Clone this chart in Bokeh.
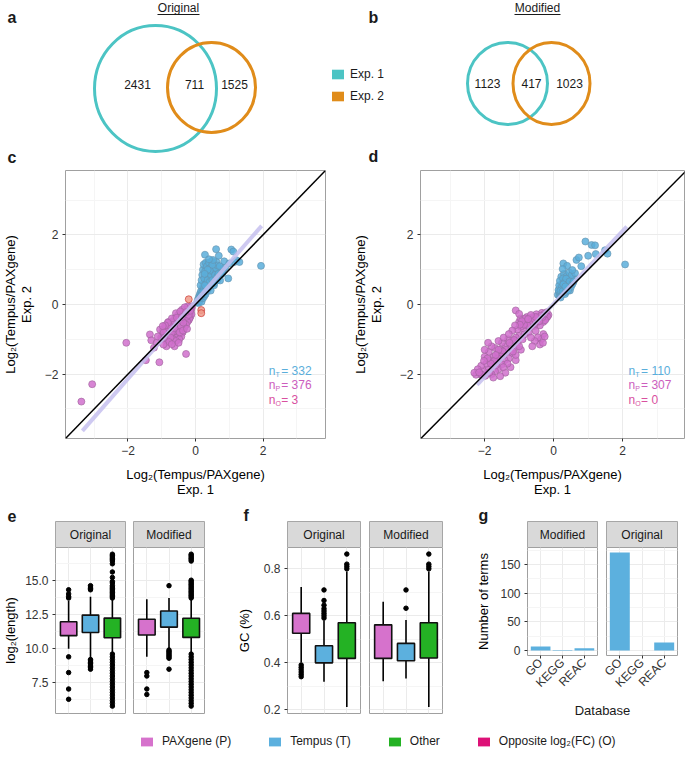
import math
from bokeh.plotting import figure
from bokeh.layouts import row, column
from bokeh.models import (Range1d, FactorRange, FixedTicker, CategoricalTicker, Label,
                          Legend, LegendItem, Slope, ColumnDataSource)
from bokeh.embed import file_html
from bokeh.resources import INLINE
from bokeh.core.properties import value

FONT = "Liberation Sans"
BLACK = "#1A1A1A"
TICK_TXT = "#333333"
GRID_MAJ = "#EBEBEB"
GRID_MIN = "#F5F5F5"
FRAME = "#A0A0A0"
STRIP_FILL = "#D9D9D9"
STRIP_LINE = "#A6A6A6"

COL_P, COL_T, COL_O, COL_OPP = "#D672CC", "#5CB0DE", "#24B224", "#DD1177"
COL_E1, COL_E2 = "#4CC4C4", "#E08C1A"

# ====================== DATA ======================
venn_sets = ["Exp. 1", "Exp. 2"]
venn_titles = ["Original", "Modified"]
venn_a_counts = [2431, 711, 1525]
venn_b_counts = [1123, 417, 1023]

group_labels = ["PAXgene (P)", "Tempus (T)", "Other", "Opposite log\u2082(FC) (O)"]

scatter_ticks = [-2, 0, 2]
scatter_minor = [-3, -1, 1, 3]
scatter_tick_labels = ["\u22122", "0", "2"]

c_P_pts = [(-0.10, -0.05), (-0.12, -0.12), (-0.14, -0.20), (-0.16, -0.08), (-0.18, -0.28), (-0.20, -0.15),
           (-0.22, -0.35), (-0.24, -0.06), (-0.25, -0.24), (-0.27, -0.42), (-0.29, -0.15), (-0.30, -0.32),
           (-0.32, -0.50), (-0.34, -0.22), (-0.35, -0.40), (-0.37, -0.58), (-0.39, -0.28), (-0.40, -0.47),
           (-0.42, -0.65), (-0.44, -0.35), (-0.45, -0.55), (-0.47, -0.72), (-0.49, -0.42), (-0.50, -0.62),
           (-0.52, -0.80), (-0.54, -0.48), (-0.55, -0.68), (-0.57, -0.86), (-0.59, -0.55), (-0.60, -0.75),
           (-0.62, -0.92), (-0.64, -0.60), (-0.65, -0.80), (-0.67, -0.48), (-0.69, -0.70), (-0.70, -0.90),
           (-0.72, -0.58), (-0.74, -0.78), (-0.76, -1.00), (-0.78, -0.65), (-0.80, -0.85), (-0.82, -0.72),
           (-0.84, -0.95), (-0.86, -0.60), (-0.88, -0.82), (-0.90, -1.02), (-0.92, -0.70), (-0.95, -0.90),
           (-0.98, -0.78), (-1.02, -0.95), (-0.30, -0.60), (-0.35, -0.72), (-0.20, -0.45), (-0.45, -0.85),
           (-0.55, -0.95), (-0.40, -0.15), (-0.60, -0.38), (-0.80, -0.50), (-1.05, -0.72), (-0.15, -0.35),
           (-0.12, -0.28), (-0.18, -0.40), (-0.24, -0.50), (-0.28, -0.58), (-0.33, -0.66), (-0.38, -0.80),
           (-0.42, -0.92), (-0.48, -1.00), (-0.52, -0.30), (-0.58, -0.25), (-0.62, -0.50), (-0.66, -0.66),
           (-0.70, -0.40), (-0.74, -0.65), (-0.78, -0.88), (-0.82, -0.52), (-0.86, -0.78), (-0.90, -0.60),
           (-0.94, -0.80), (-0.97, -0.62), (-1.00, -1.00), (-0.66, -1.00), (-0.58, -1.05), (-0.50, -0.50),
           (-0.44, -0.62), (-0.36, -0.52), (-0.26, -0.35), (-0.20, -0.30), (-0.32, -0.08), (-0.45, -0.20),
           (-0.55, -0.38), (-0.70, -0.80), (-0.84, -1.05), (-0.62, -0.68), (-0.40, -0.36), (-0.28, -0.22),
           (-0.16, -0.18), (-0.74, -0.95), (-0.92, -0.95), (-0.47, -0.80),
           (-2.05, -1.10), (-1.35, -0.86), (-1.31, -1.03), (-1.23, -1.24), (-1.47, -1.60), (-1.07, -1.66),
           (-0.86, -1.20), (-0.62, -1.20), (-0.28, -1.42), (-0.37, -0.75), (-0.25, -0.70), (-0.78, -1.08),
           (-3.06, -2.29), (-3.38, -2.79), (-1.15, -1.10), (-0.70, -1.14), (-1.12, -0.92), (-0.95, -1.15),
           (-0.50, -1.10)]
c_T_pts = [(0.05, 0.06), (0.07, 0.14), (0.09, 0.04), (0.10, 0.22), (0.12, 0.10), (0.13, 0.30), (0.15, 0.16),
           (0.16, 0.38), (0.18, 0.08), (0.19, 0.26), (0.20, 0.46), (0.22, 0.18), (0.23, 0.34), (0.24, 0.55),
           (0.26, 0.24), (0.27, 0.42), (0.28, 0.64), (0.29, 0.86), (0.30, 0.30), (0.31, 0.50), (0.32, 0.72),
           (0.33, 0.95), (0.34, 0.38), (0.35, 0.58), (0.36, 0.80), (0.37, 1.05), (0.38, 0.46), (0.39, 0.66),
           (0.40, 0.88), (0.41, 1.12), (0.42, 0.54), (0.44, 0.74), (0.45, 0.96), (0.46, 1.15), (0.47, 0.62),
           (0.49, 0.82), (0.50, 1.02), (0.52, 0.70), (0.54, 0.90), (0.55, 1.10), (0.57, 0.78), (0.59, 0.98),
           (0.61, 0.86), (0.63, 1.06), (0.66, 0.92), (0.70, 1.00), (0.74, 0.95), (0.78, 1.02), (0.83, 1.00),
           (0.88, 1.06), (0.30, 1.05), (0.33, 1.18), (0.45, 0.40), (0.55, 0.55), (0.65, 0.70),
           (0.15, 0.55), (0.18, 0.70), (0.20, 0.85), (0.22, 1.00), (0.24, 1.15), (0.26, 0.75), (0.28, 0.95),
           (0.30, 1.20), (0.32, 0.60), (0.34, 1.10), (0.36, 0.70), (0.38, 0.90), (0.40, 1.20), (0.42, 0.65),
           (0.44, 1.05), (0.46, 0.85), (0.48, 1.25), (0.50, 0.70), (0.52, 0.95), (0.54, 1.18), (0.56, 0.62),
           (0.58, 0.85), (0.60, 1.05), (0.62, 1.22), (0.64, 0.78), (0.66, 1.12), (0.68, 0.88), (0.72, 1.10),
           (0.76, 0.86), (0.80, 0.90), (0.25, 0.45), (0.35, 0.45), (0.20, 0.35), (0.12, 0.18), (0.16, 0.25),
           (0.28, 0.55), (0.42, 0.98), (0.50, 1.14), (0.36, 1.00), (0.27, 0.88),
           (0.28, 1.43), (0.61, 1.59), (0.69, 1.40), (1.06, 1.58), (1.12, 1.52), (1.15, 1.22), (1.22, 1.27),
           (1.30, 1.22), (1.94, 1.11), (0.97, 0.75), (0.73, 0.69), (0.52, 1.28), (0.85, 1.24), (1.00, 1.18),
           (0.40, 1.30)]
c_O_pts = [(-0.20, 0.15), (0.17, -0.16), (0.17, -0.25)]
c_fit_x = [-3.35, 1.96]
c_fit_y = [-3.63, 2.26]
c_counts = [332, 376, 3]

d_P_pts = [(-0.15, -0.30), (-0.20, -0.22), (-0.22, -0.40), (-0.27, -0.30), (-0.30, -0.50), (-0.34, -0.24),
           (-0.37, -0.42), (-0.40, -0.60), (-0.44, -0.34), (-0.47, -0.50), (-0.50, -0.28), (-0.54, -0.45),
           (-0.57, -0.62), (-0.60, -0.36), (-0.64, -0.52), (-0.68, -0.40), (-0.70, -0.66), (-0.74, -0.50),
           (-0.78, -0.36), (-0.80, -0.60), (-0.85, -0.46), (-0.88, -0.70), (-0.91, -0.55), (-0.95, -0.64),
           (-1.00, -0.50), (-1.05, -0.72), (-0.96, -0.40), (-0.72, -0.80), (-0.52, -0.76), (-1.10, -0.17),
           (-1.00, -0.27), (-0.30, -0.85), (-0.36, -1.00), (-0.26, -0.92), (-0.40, -1.15), (-0.46, -0.95),
           (-0.55, -1.05), (-0.62, -1.20), (-0.31, -1.10), (-0.66, -0.95), (-1.00, -0.90), (-1.05, -1.10),
           (-1.10, -0.95), (-1.15, -1.25), (-1.20, -1.05), (-1.20, -1.40), (-1.25, -1.20), (-1.30, -1.55),
           (-1.32, -1.00), (-1.35, -1.35), (-1.40, -1.20), (-1.42, -1.60), (-1.45, -1.45), (-1.50, -1.10),
           (-1.50, -1.72), (-1.55, -1.30), (-1.58, -1.55), (-1.60, -1.86), (-1.62, -1.40), (-1.65, -1.66),
           (-1.70, -1.25), (-1.70, -1.92), (-1.75, -1.50), (-1.78, -1.76), (-1.80, -2.00), (-1.85, -1.60),
           (-1.88, -1.36), (-1.90, -1.86), (-1.95, -1.70), (-1.98, -2.05), (-2.00, -1.50), (-2.05, -1.90),
           (-2.10, -1.76), (-2.12, -2.00), (-2.20, -1.86), (-2.25, -2.02), (-2.30, -1.96), (-1.10, -1.60),
           (-1.25, -1.80), (-1.40, -1.96), (-1.55, -2.06), (-1.75, -2.10), (-0.95, -1.30), (-1.10, -1.45),
           (-1.00, -1.20), (-0.90, -1.00), (-0.85, -0.86), (-1.60, -1.05), (-1.80, -1.20), (-2.00, -1.30),
           (-1.90, -1.10), (-1.45, -0.95),
           (-0.18, -0.35), (-0.25, -0.45), (-0.32, -0.36), (-0.42, -0.48), (-0.48, -0.40), (-0.56, -0.55),
           (-0.62, -0.45), (-0.70, -0.55), (-0.76, -0.60), (-0.82, -0.40), (-0.86, -0.58), (-0.92, -0.48),
           (-0.98, -0.58), (-0.26, -0.26), (-0.36, -0.32), (-0.52, -0.36), (-0.66, -0.30), (-0.74, -0.42),
           (-1.12, -0.60), (-1.20, -0.75), (-1.30, -0.85), (-1.15, -1.02), (-1.28, -1.10), (-1.38, -1.30),
           (-1.48, -1.35), (-1.52, -1.50), (-1.62, -1.55), (-1.68, -1.75), (-1.72, -1.62), (-1.82, -1.70),
           (-1.86, -1.95), (-1.92, -1.55), (-2.02, -1.62), (-2.08, -2.02), (-2.16, -1.95), (-1.34, -1.70),
           (-1.46, -1.80), (-1.60, -1.30), (-1.68, -1.45), (-1.18, -1.35)]
d_T_pts = [(0.12, 0.28), (0.15, 0.36), (0.17, 0.24), (0.18, 0.46), (0.20, 0.32), (0.22, 0.55), (0.23, 0.40),
           (0.25, 0.30), (0.26, 0.62), (0.28, 0.46), (0.29, 0.36), (0.31, 0.54), (0.32, 0.70), (0.34, 0.42),
           (0.35, 0.60), (0.37, 0.50), (0.39, 0.66), (0.40, 0.44), (0.42, 0.56), (0.44, 0.72), (0.46, 0.52),
           (0.48, 0.62), (0.50, 0.58), (0.53, 0.68), (0.56, 0.64), (0.60, 0.74), (0.22, 0.80), (0.30, 0.88),
           (0.38, 0.82), (0.45, 0.92), (0.52, 0.84), (0.62, 0.90), (0.20, 0.20), (0.33, 0.30), (0.47, 0.40),
           (0.14, 0.42), (0.16, 0.55), (0.18, 0.68), (0.24, 0.50), (0.27, 0.75), (0.30, 0.62), (0.33, 0.48),
           (0.36, 0.74), (0.40, 0.58), (0.43, 0.48), (0.46, 0.66), (0.50, 0.50), (0.54, 0.58), (0.58, 0.66),
           (0.20, 0.40), (0.26, 0.38), (0.35, 0.36), (0.42, 0.40), (0.28, 0.58), (0.34, 0.52),
           (0.28, 1.18), (0.39, 1.11), (0.54, 0.99), (0.66, 1.28), (0.73, 1.35), (0.92, 1.81), (1.10, 1.71),
           (1.20, 1.70), (1.00, 1.40), (1.22, 1.45), (1.49, 1.56), (1.56, 1.46), (2.07, 1.15), (0.80, 1.10),
           (0.26, 1.02)]
d_O_pts = []
d_fit_x = [-2.22, 2.12]
d_fit_y = [-2.31, 2.24]
d_counts = [110, 307, 0]

box_cats = ["P", "T", "O"]
box_colors = [COL_P, COL_T, COL_O]
facet_names = ["Original", "Modified"]

e_ticks = [7.5, 10.0, 12.5, 15.0]
e_minor = [6.25, 8.75, 11.25, 13.75, 16.25]
e_tick_labels = ["7.5", "10.0", "12.5", "15.0"]
e_orig_q1 = [10.95, 11.18, 10.80]
e_orig_med = [11.55, 11.90, 11.40]
e_orig_q3 = [11.96, 12.45, 12.23]
e_orig_lo = [10.00, 9.30, 9.70]
e_orig_hi = [13.50, 13.80, 13.60]
e_orig_out_P = [14.3, 14.0, 13.8, 13.7, 9.4, 8.25, 7.05, 6.3]
e_orig_out_T = [14.6, 14.5, 14.4, 14.3, 9.2, 9.1, 9.0, 8.9, 8.8, 8.7, 8.6, 8.5]
e_orig_out_O = [13.7, 13.8, 13.9, 14.0, 14.1, 14.2, 14.3, 14.4, 14.5, 14.6, 14.8, 14.9, 15.2, 15.6,
                16.2, 16.4, 16.5, 16.6, 16.7, 16.8, 16.9,
                9.6, 9.4, 9.2, 9.0, 8.8, 8.6, 8.4, 8.2, 8.0, 7.8, 7.6, 7.4, 7.2, 7.0, 6.8, 6.6, 6.4,
                6.2, 6.0, 5.8]
e_mod_q1 = [11.00, 11.57, 10.82]
e_mod_med = [11.55, 12.30, 11.40]
e_mod_q3 = [12.15, 12.75, 12.22]
e_mod_lo = [9.40, 10.00, 9.70]
e_mod_hi = [13.60, 13.70, 13.60]
e_mod_out_P = [8.25, 8.0, 7.05, 6.65]
e_mod_out_T = [14.6, 9.9, 9.8, 9.7, 9.6, 9.5, 9.4, 9.3, 8.5]
e_mod_out_O = [13.7, 13.8, 13.9, 14.0, 14.1, 14.2, 14.3, 14.4, 14.5, 14.6, 14.7, 14.8, 14.9, 15.0,
               16.4, 16.5, 16.6, 16.7, 16.8, 16.9,
               9.6, 9.4, 9.2, 9.0, 8.8, 8.6, 8.4, 8.2, 8.0, 7.8, 7.6, 7.4, 7.2, 7.0, 6.8, 6.6, 6.4,
               6.2, 6.0, 5.8]

f_ticks = [0.2, 0.4, 0.6, 0.8]
f_minor = [0.3, 0.5, 0.7]
f_tick_labels = ["0.2", "0.4", "0.6", "0.8"]
f_orig_q1 = [0.525, 0.399, 0.418]
f_orig_med = [0.570, 0.432, 0.492]
f_orig_q3 = [0.610, 0.472, 0.570]
f_orig_lo = [0.400, 0.318, 0.211]
f_orig_hi = [0.722, 0.580, 0.789]
f_orig_out_P = [0.39, 0.38, 0.37, 0.36, 0.35, 0.34]
f_orig_out_T = [0.71, 0.665, 0.645, 0.63, 0.62, 0.61, 0.60, 0.59]
f_orig_out_O = [0.80, 0.81, 0.82, 0.863]
f_mod_q1 = [0.418, 0.408, 0.420]
f_mod_med = [0.482, 0.442, 0.492]
f_mod_q3 = [0.561, 0.482, 0.570]
f_mod_lo = [0.321, 0.332, 0.211]
f_mod_hi = [0.660, 0.582, 0.789]
f_mod_out_P = []
f_mod_out_T = [0.632, 0.71]
f_mod_out_O = [0.80, 0.81, 0.82, 0.863]

g_cats = ["GO", "KEGG", "REAC"]
g_facets = ["Modified", "Original"]
g_mod = [7, 1, 4]
g_orig = [171, 0, 14]
g_ticks = [0, 50, 100, 150]
g_minor = [25, 75, 125, 175]
g_tick_labels = ["0", "50", "100", "150"]


# ====================== HELPERS ======================
def blank(x0, x1, y0, y1):
    p = figure(width=x1 - x0, height=y1 - y0, x_range=Range1d(x0, x1), y_range=Range1d(y1, y0),
               min_border=0, x_axis_location=None, y_axis_location=None,
               output_backend="svg", toolbar_location=None)
    p.grid.visible = False
    p.outline_line_color = None
    return p


def txt(p, x, y, t, size="12px", color=BLACK, align="center", style="normal", baseline="middle"):
    p.text(x=[x], y=[y], text=[t], text_font=value(FONT), text_font_size=size, text_color=color,
           text_align=align, text_baseline=baseline, text_font_style=style)


def style_axis(ax, ticks, minor, labels, label_size="13px", label_standoff=3):
    ax.ticker = FixedTicker(ticks=ticks, minor_ticks=minor)
    ax.major_label_overrides = {t: l for t, l in zip(ticks, labels)}
    ax.axis_line_color = None
    ax.major_tick_line_color = "#333333"
    ax.major_tick_in = 0
    ax.major_tick_out = 3
    ax.minor_tick_line_color = None
    ax.major_label_text_font = FONT
    ax.major_label_text_font_size = "12px"
    ax.major_label_text_color = TICK_TXT
    ax.major_label_standoff = 3
    ax.axis_label_text_font = FONT
    ax.axis_label_text_font_size = label_size
    ax.axis_label_text_font_style = "normal"
    ax.axis_label_text_color = "black"
    ax.axis_label_standoff = label_standoff
    ax.axis_label_text_line_height = 1.05


def style_legend(lg):
    lg.label_text_font = FONT
    lg.label_text_font_size = "12px"
    lg.label_text_color = BLACK
    lg.border_line_color = None
    lg.background_fill_alpha = 0
    lg.padding = 0
    lg.margin = 0


def legend_swatches(p, colors):
    # swatch renderers kept outside the visible range; they only feed the legend glyphs
    return [p.quad(left=[-2000], right=[-1990], top=[-2000], bottom=[-1990], fill_color=c, line_color=None)
            for c in colors]


# ====================== ROW 1 : VENN (+ letters c, d) ======================
ROW1_H = 168


def venn(p, counts, title, c1, c2, label_x, label_y, title_x, title_w):
    for (cx, cy, w, h), col in ((c1, COL_E1), (c2, COL_E2)):
        p.ellipse(x=[cx], y=[cy], width=[w], height=[h], fill_color=None, line_color=col, line_width=3)
    for x, n in zip(label_x, counts):
        txt(p, x, label_y, str(n))
    txt(p, title_x, 7, title)
    p.segment(x0=[title_x - title_w / 2], y0=[14], x1=[title_x + title_w / 2], y1=[14],
              line_color=BLACK, line_width=1)


pa = blank(0, 320, 0, ROW1_H)
venn(pa, venn_a_counts, venn_titles[0], (155, 88, 122, 126), (211, 87, 88, 90),
     [137, 194, 234], 84, 178, 42)
txt(pa, 7, 17, "a", size="16px", align="left", style="bold")
txt(pa, 7, 157, "c", size="16px", align="left", style="bold")

pb = blank(320, 685, 0, ROW1_H)
venn(pb, venn_b_counts, venn_titles[1], (507, 83, 80, 82), (551, 83, 77, 82),
     [487, 531, 569], 83, 537, 46)
txt(pb, 368, 17, "b", size="16px", align="left", style="bold")
txt(pb, 368, 156, "d", size="16px", align="left", style="bold")
ve = legend_swatches(pb, (COL_E1, COL_E2))
lg_v = Legend(items=[LegendItem(label=l, renderers=[r]) for l, r in zip(venn_sets, ve)],
              location=(10, 65), orientation="vertical", glyph_width=15, glyph_height=12,
              label_height=12, spacing=8, label_standoff=5)
style_legend(lg_v)
pb.add_layout(lg_v)


# ====================== ROW 2 : SCATTER ======================
def scatter_panel(x0, x1, fl, fr, xr, P, T, O, fx, fy, counts, ylab_standoff):
    yr = (-3.85, 3.85)
    top, ft, fb, bot = ROW1_H, 170, 438, 500
    p = figure(width=x1 - x0, height=bot - top, x_range=Range1d(*xr), y_range=Range1d(*yr),
               min_border_left=fl - x0, min_border_right=x1 - fr, min_border_top=ft - top,
               min_border_bottom=bot - fb, output_backend="svg", toolbar_location=None)
    p.outline_line_color = FRAME
    p.background_fill_color = "white"
    for ax in (p.xaxis[0], p.yaxis[0]):
        style_axis(ax, scatter_ticks, scatter_minor, scatter_tick_labels)
    p.xaxis.axis_label = "Log\u2082(Tempus/PAXgene)\nExp. 1"
    p.yaxis.axis_label = "Log\u2082(Tempus/PAXgene)\nExp. 2"
    p.xaxis.axis_label_standoff = 9
    p.yaxis.axis_label_standoff = ylab_standoff
    p.grid.grid_line_color = GRID_MAJ
    p.grid.minor_grid_line_color = GRID_MIN

    def sc(pts, fill, line):
        if pts:
            xs, ys = zip(*pts)
            p.scatter(list(xs), list(ys), size=7, fill_color=fill, fill_alpha=0.85,
                      line_color=line, line_alpha=0.8, line_width=0.8)
    sc(P, "#D070CC", "#A0649E")
    sc(T, "#5AAEDB", "#6494B0")
    sc(O, "#EE9A8A", "#C8302A")
    p.line(fx, fy, line_color="#C6C0EE", line_width=4, line_alpha=0.85)
    p.add_layout(Slope(gradient=1, y_intercept=0, line_color="black", line_width=1.5))

    cols = ["#5AAEDB", "#CC5DBE", "#D9509F"]
    subs = ["T", "P", "O"]
    for i, (n, s, c) in enumerate(zip(counts, subs, cols)):
        y = -1.90 - 0.415 * i
        x = 2.17
        kw = dict(text_font=FONT, text_color=c, text_baseline="middle", text_align="left")
        p.add_layout(Label(x=x, y=y, text="n", text_font_size="12px", **kw))
        p.add_layout(Label(x=x, y=y, x_offset=6.8, y_offset=-3.5, text=s, text_font_size="7px", **kw))
        p.add_layout(Label(x=x, y=y, x_offset=12.5, text="= %d" % n, text_font_size="12px", **kw))
    return p


pc = scatter_panel(0, 340, 57, 325, (-3.85, 3.85), c_P_pts, c_T_pts, c_O_pts, c_fit_x, c_fit_y,
                   c_counts, 8)
pd_ = scatter_panel(340, 685, 420, 684, (-3.86, -3.86 + 264 / 34.5), d_P_pts, d_T_pts, d_O_pts,
                    d_fit_x, d_fit_y, d_counts, 13)


# ====================== ROW 3 : FACETS ======================
S_TOP, F_TOP = 521, 547


def strip(x0, x1, fl, fr, name, letter=None, letter_x=None):
    p = blank(x0, x1, 500, F_TOP)
    p.quad(left=[fl], right=[fr], top=[S_TOP], bottom=[F_TOP], fill_color=STRIP_FILL, line_color=STRIP_LINE)
    txt(p, (fl + fr) / 2, (S_TOP + F_TOP) / 2, name, color=BLACK)
    if letter:
        txt(p, letter_x, 515, letter, size="16px", align="left", style="bold")
    return p


def facet_fig(x0, x1, fl, fr, height, bottom, cats, yr, yt, ym, ylabels, ylabel=None,
              xlabels=False, ylab_standoff=3):
    p = figure(width=x1 - x0, height=height,
               x_range=FactorRange(factors=cats, range_padding=0.2 / 3),
               y_range=Range1d(*yr),
               min_border_left=fl - x0, min_border_right=x1 - fr, min_border_top=0,
               min_border_bottom=bottom,
               x_axis_location="below" if xlabels else None,
               y_axis_location="left" if ylabel else None,
               output_backend="svg", toolbar_location=None)
    p.outline_line_color = FRAME
    p.xgrid.ticker = CategoricalTicker()
    p.xgrid.grid_line_color = GRID_MAJ
    p.ygrid.ticker = FixedTicker(ticks=yt, minor_ticks=ym)
    p.ygrid.grid_line_color = GRID_MAJ
    p.ygrid.minor_grid_line_color = GRID_MIN
    if ylabel:
        style_axis(p.yaxis[0], yt, ym, ylabels, label_standoff=ylab_standoff)
        p.yaxis.axis_label = ylabel
    if xlabels:
        ax = p.xaxis[0]
        ax.axis_line_color = None
        ax.major_tick_line_color = "#333333"
        ax.major_tick_in = 0
        ax.major_tick_out = 3
        ax.minor_tick_line_color = None
        ax.major_label_text_font = FONT
        ax.major_label_text_font_size = "12px"
        ax.major_label_text_color = TICK_TXT
        ax.major_label_orientation = math.pi / 4
        ax.major_label_standoff = 2
    return p


def boxes(p, q1, med, q3, lo, hi, outs):
    src = ColumnDataSource(dict(x=box_cats, q1=q1, med=med, q3=q3, lo=lo, hi=hi, c=box_colors))
    p.segment(x0="x", y0="q3", x1="x", y1="hi", source=src, line_color="black", line_width=1.6)
    p.segment(x0="x", y0="q1", x1="x", y1="lo", source=src, line_color="black", line_width=1.6)
    p.vbar(x="x", width=0.75, bottom="q1", top="q3", fill_color="c", line_color="#111111",
           line_width=1.6, source=src)
    p.rect(x="x", y="med", width=0.75, height=0, fill_color=None, line_color="#111111",
           line_width=1.6, source=src)
    for cat, vals in zip(box_cats, outs):
        if vals:
            p.scatter(x=[cat] * len(vals), y=vals, size=4.5, color="black")


# column geometry (figure x0, frame left, frame right, figure x1)
E1 = (0, 55, 125, 129)
E2 = (129, 133, 204, 208)
F1 = (208, 287, 360, 364)
F2 = (364, 369, 442, 446)
G1 = (446, 527, 597, 601)
G2 = (601, 606, 677, 685)

e_range = (5.26, 17.39)
f_range = (0.183, 0.891)
g_range = (-8.55, 179.55)
EF_H = 720 - F_TOP
G_BOT = 697

se1 = strip(E1[0], E1[3], E1[1], E1[2], facet_names[0], "e", 7)
se2 = strip(E2[0], E2[3], E2[1], E2[2], facet_names[1])
sf1 = strip(F1[0], F1[3], F1[1], F1[2], facet_names[0], "f", 243)
sf2 = strip(F2[0], F2[3], F2[1], F2[2], facet_names[1])
sg1 = strip(G1[0], G1[3], G1[1], G1[2], g_facets[0], "g", 478)
sg2 = strip(G2[0], G2[3], G2[1], G2[2], g_facets[1])

fe1 = facet_fig(E1[0], E1[3], E1[1], E1[2], EF_H, 7, box_cats, e_range, e_ticks, e_minor,
                e_tick_labels, ylabel="log\u2082(length)", ylab_standoff=4)
boxes(fe1, e_orig_q1, e_orig_med, e_orig_q3, e_orig_lo, e_orig_hi,
      [e_orig_out_P, e_orig_out_T, e_orig_out_O])
fe2 = facet_fig(E2[0], E2[3], E2[1], E2[2], EF_H, 7, box_cats, e_range, e_ticks, e_minor, e_tick_labels)
boxes(fe2, e_mod_q1, e_mod_med, e_mod_q3, e_mod_lo, e_mod_hi,
      [e_mod_out_P, e_mod_out_T, e_mod_out_O])

ff1 = facet_fig(F1[0], F1[3], F1[1], F1[2], EF_H, 7, box_cats, f_range, f_ticks, f_minor,
                f_tick_labels, ylabel="GC (%)", ylab_standoff=9)
boxes(ff1, f_orig_q1, f_orig_med, f_orig_q3, f_orig_lo, f_orig_hi,
      [f_orig_out_P, f_orig_out_T, f_orig_out_O])
ff2 = facet_fig(F2[0], F2[3], F2[1], F2[2], EF_H, 7, box_cats, f_range, f_ticks, f_minor, f_tick_labels)
boxes(ff2, f_mod_q1, f_mod_med, f_mod_q3, f_mod_lo, f_mod_hi,
      [f_mod_out_P, f_mod_out_T, f_mod_out_O])

fg1 = facet_fig(G1[0], G1[3], G1[1], G1[2], G_BOT - F_TOP, 36, g_cats, g_range, g_ticks, g_minor,
                g_tick_labels, ylabel="Number of terms", xlabels=True, ylab_standoff=6)
fg1.vbar(x=g_cats, top=g_mod, width=0.9, fill_color=COL_T, line_color=None)
fg2 = facet_fig(G2[0], G2[3], G2[1], G2[2], G_BOT - F_TOP, 36, g_cats, g_range, g_ticks, g_minor,
                g_tick_labels, xlabels=True)
fg2.vbar(x=g_cats, top=g_orig, width=0.9, fill_color=COL_T, line_color=None)

gl = blank(446, 685, G_BOT, 720)
txt(gl, (G1[1] + G2[2]) / 2, 710, "Database", size="13px")

# ====================== ROW 4 : LEGEND ======================
pl = blank(0, 685, 720, 760)
lr = legend_swatches(pl, (COL_P, COL_T, COL_O, COL_OPP))
lg_b = Legend(items=[LegendItem(label=l, renderers=[r]) for l, r in zip(group_labels, lr)],
              location=(139, 12), orientation="horizontal", glyph_width=15, glyph_height=11,
              label_height=12, spacing=36, label_standoff=8)
style_legend(lg_b)
pl.add_layout(lg_b)

layout = column(
    row(pa, pb),
    row(pc, pd_),
    row(column(row(se1, se2, sf1, sf2), row(fe1, fe2, ff1, ff2)),
        column(row(sg1, sg2), row(fg1, fg2), gl)),
    pl,
)

open("out.html", "w").write(file_html(layout, INLINE))
